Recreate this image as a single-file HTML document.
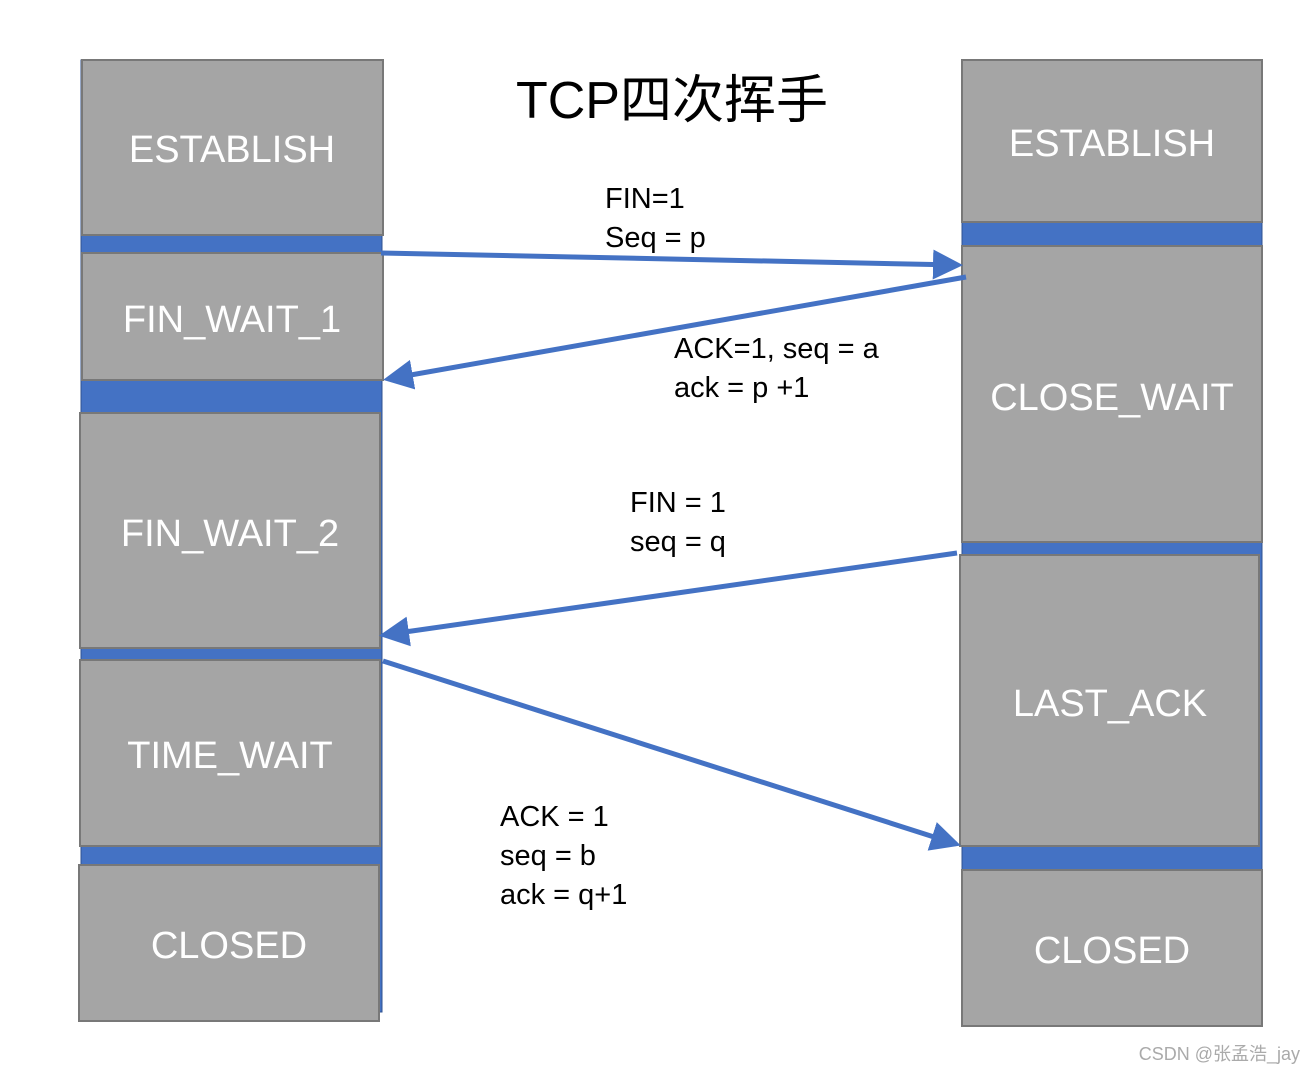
<!DOCTYPE html>
<html><head><meta charset="utf-8"><style>
html,body{margin:0;padding:0;background:#fff;}
svg{display:block;}
.lbl{font-family:"Liberation Sans","Noto Sans CJK SC",sans-serif;fill:#fff;font-size:38px;text-anchor:middle;}
.t{font-family:"Liberation Sans","Noto Sans CJK SC",sans-serif;fill:#000;font-size:29px;}
</style></head><body>
<svg width="1316" height="1074" viewBox="0 0 1316 1074" xmlns="http://www.w3.org/2000/svg">
<defs>
<marker id="ah" markerWidth="6" markerHeight="6" refX="5" refY="3" orient="auto" markerUnits="strokeWidth"><path d="M0,0 L6,3 L0,6 z" fill="#4472C4"/></marker>
</defs>
<!-- blue strips -->
<rect x="81" y="60" width="301" height="952" fill="#4472C4" stroke="#2F528F" stroke-width="1"/>
<rect x="962" y="60" width="300" height="966" fill="#4472C4" stroke="#2F528F" stroke-width="1"/>
<g fill="#A5A5A5" stroke="#787878" stroke-width="2">
<rect x="82" y="60" width="301" height="175"/>
<rect x="82" y="253" width="301" height="127"/>
<rect x="80" y="413" width="300" height="235"/>
<rect x="80" y="660" width="300" height="186"/>
<rect x="79" y="865" width="300" height="156"/>
<rect x="962" y="60" width="300" height="162"/>
<rect x="962" y="246" width="300" height="296"/>
<rect x="960" y="555" width="299" height="291"/>
<rect x="962" y="870" width="300" height="156"/>
</g>
<text class="lbl" x="232" y="162">ESTABLISH</text>
<text class="lbl" x="232" y="332">FIN_WAIT_1</text>
<text class="lbl" x="230" y="546">FIN_WAIT_2</text>
<text class="lbl" x="230" y="768">TIME_WAIT</text>
<text class="lbl" x="229" y="958">CLOSED</text>
<text class="lbl" x="1112" y="156">ESTABLISH</text>
<text class="lbl" x="1112" y="410">CLOSE_WAIT</text>
<text class="lbl" x="1110" y="716">LAST_ACK</text>
<text class="lbl" x="1112" y="963">CLOSED</text>
<text x="672" y="118" font-family="Liberation Sans,Noto Sans CJK SC,sans-serif" font-size="52" text-anchor="middle" fill="#000">TCP四次挥手</text>
<g stroke="#4472C4" stroke-width="5" fill="none">
<line x1="381" y1="253" x2="958" y2="265" marker-end="url(#ah)"/>
<line x1="966" y1="277" x2="388" y2="379" marker-end="url(#ah)"/>
<line x1="957" y1="553" x2="384" y2="635" marker-end="url(#ah)"/>
<line x1="383" y1="661" x2="956" y2="844" marker-end="url(#ah)"/>
</g>
<text class="t" x="605" y="208">FIN=1</text>
<text class="t" x="605" y="247">Seq = p</text>
<text class="t" x="674" y="358">ACK=1,  seq = a</text>
<text class="t" x="674" y="397">ack = p +1</text>
<text class="t" x="630" y="512">FIN = 1</text>
<text class="t" x="630" y="551">seq = q</text>
<text class="t" x="500" y="826">ACK = 1</text>
<text class="t" x="500" y="865">seq = b</text>
<text class="t" x="500" y="904">ack = q+1</text>
<text x="1300" y="1060" font-family="Liberation Sans,Noto Sans CJK SC,sans-serif" font-size="18" fill="#aaa" text-anchor="end">CSDN @张孟浩_jay</text>
</svg>
</body></html>
